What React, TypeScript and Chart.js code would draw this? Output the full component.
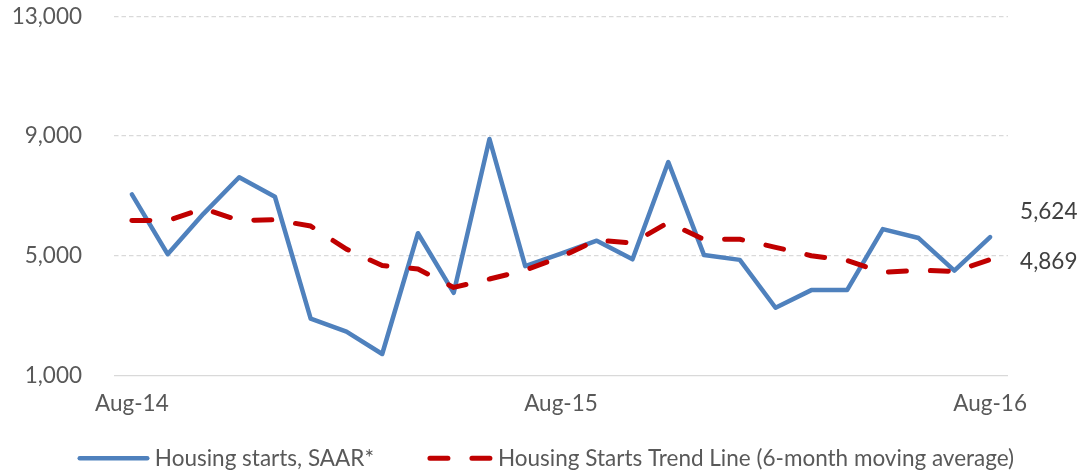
import React, { useEffect, useRef } from "react";
import { Chart, registerables } from "chart.js";

Chart.register(...registerables);

// ---- data ----
const months = [
  "Aug-14", "Sep-14", "Oct-14", "Nov-14", "Dec-14", "Jan-15", "Feb-15", "Mar-15",
  "Apr-15", "May-15", "Jun-15", "Jul-15", "Aug-15", "Sep-15", "Oct-15", "Nov-15",
  "Dec-15", "Jan-16", "Feb-16", "Mar-16", "Apr-16", "May-16", "Jun-16", "Jul-16", "Aug-16",
];
const housingStarts = [
  7050, 5050, 6400, 7620, 6970, 2900, 2460, 1715, 5750, 3760, 8900, 4650, 5070,
  5500, 4880, 8130, 5020, 4860, 3260, 3850, 3850, 5890, 5590, 4500, 5624,
];
const trendLine = [
  6180, 6170, 6580, 6175, 6200, 5990, 5220, 4670, 4555, 3940, 4220, 4520, 4960,
  5525, 5424, 6110, 5540, 5550, 5280, 5000, 4840, 4440, 4520, 4472, 4869,
];
const xTickLabels = ["Aug-14", "Aug-15", "Aug-16"];
const yTickValues = [1000, 5000, 9000, 13000];
const seriesLabels = ["Housing starts, SAAR*", "Housing Starts Trend Line (6-month moving average)"];

const FONT = "Lato, 'Open Sans', sans-serif";
const FONT_SIZE = 22.5;
const TEXT_COLOR = "#595959";

const fmt = (v: number) => v.toLocaleString("en-US");

const endLabelsPlugin = {
  id: "endLabels",
  afterDatasetsDraw(chart: any) {
    const ctx = chart.ctx;
    ctx.save();
    ctx.font = `${FONT_SIZE}px ${FONT}`;
    ctx.fillStyle = "#404040";
    ctx.textAlign = "left";
    ctx.textBaseline = "middle";
    const offsets = [-25, 2];
    chart.data.datasets.forEach((ds: any, i: number) => {
      const meta = chart.getDatasetMeta(i);
      const last = meta.data[meta.data.length - 1];
      const val = ds.data[ds.data.length - 1];
      ctx.fillText(fmt(val), last.x + 30, last.y + offsets[i]);
    });
    ctx.restore();
  },
};

const legendPlugin = {
  id: "customLegend",
  afterDraw(chart: any) {
    const ctx = chart.ctx;
    ctx.save();
    ctx.font = `${FONT_SIZE}px ${FONT}`;
    const lineLen = 67.5;
    const cap = 2.25;
    const textGap = 5.3;
    const itemGap = 46.7;
    const items = chart.data.datasets.map((ds: any) => ({ ds, w: ctx.measureText(ds.label).width }));
    const total =
      items.reduce((s: number, it: any) => s + lineLen + 2 * cap + textGap + it.w, 0) +
      itemGap * (items.length - 1);
    let x = chart.width / 2 + 4.3 - total / 2;
    const y = 458.3;
    items.forEach((it: any) => {
      const ds = it.ds;
      ctx.beginPath();
      ctx.strokeStyle = ds.borderColor;
      ctx.lineWidth = ds.borderWidth;
      ctx.lineCap = "round";
      ctx.setLineDash(ds.borderDash || []);
      ctx.lineDashOffset = ds.borderDash ? -7 : 0;
      ctx.moveTo(x + cap, y);
      ctx.lineTo(x + cap + lineLen, y);
      ctx.stroke();
      ctx.setLineDash([]);
      ctx.fillStyle = TEXT_COLOR;
      ctx.textAlign = "left";
      ctx.textBaseline = "middle";
      ctx.fillText(ds.label, x + lineLen + 2 * cap + textGap, y);
      x += lineLen + 2 * cap + textGap + it.w + itemGap;
    });
    ctx.restore();
  },
};

export default function App() {
  const ref = useRef<HTMLCanvasElement | null>(null);

  useEffect(() => {
    if (!ref.current) return;
    const chart = new Chart(ref.current, {
      type: "line",
      data: {
        labels: months,
        datasets: [
          {
            label: seriesLabels[0],
            data: housingStarts,
            borderColor: "#4f81bd",
            borderWidth: 4.5,
            borderJoinStyle: "round",
            borderCapStyle: "round",
            pointRadius: 0,
            tension: 0,
            order: 1,
          },
          {
            label: seriesLabels[1],
            data: trendLine,
            borderColor: "#c00000",
            borderWidth: 5,
            borderDash: [18, 24],
            borderCapStyle: "round",
            borderJoinStyle: "round",
            pointRadius: 0,
            tension: 0,
            order: 0,
          },
        ],
      },
      options: {
        responsive: false,
        animation: false,
        devicePixelRatio: 1,
        layout: { padding: { top: 16.3, right: 75, bottom: 60, left: 0 } },
        plugins: { legend: { display: false }, tooltip: { enabled: false } },
        scales: {
          x: {
            type: "category",
            offset: true,
            grid: { display: false, drawTicks: false },
            border: { display: false },
            ticks: {
              autoSkip: false,
              maxRotation: 0,
              padding: 15,
              color: TEXT_COLOR,
              font: { family: FONT, size: FONT_SIZE },
              callback: (_v: any, i: number) => (xTickLabels.includes(months[i]) ? months[i] : null),
            },
            afterFit: (s: any) => {
              s.height = 476 - 60 - 375.4;
              s.paddingLeft = 0;
              s.paddingRight = 0;
            },
          },
          y: {
            min: 1000,
            max: 13000,
            afterBuildTicks: (s: any) => {
              s.ticks = yTickValues.map((v) => ({ value: v }));
            },
            grid: { color: "#d9d9d9", lineWidth: 1.3, drawTicks: false },
            border: {
              display: false,
              dash: (c: any) => (c.tick && c.tick.value === 1000 ? [] : [4.5, 3]),
            },
            ticks: {
              padding: 32,
              color: TEXT_COLOR,
              font: { family: FONT, size: FONT_SIZE },
              callback: (v: any) => fmt(Number(v)),
            },
            afterFit: (s: any) => {
              s.width = 114;
              s.paddingTop = 0;
              s.paddingBottom = 0;
            },
          },
        },
      },
      plugins: [endLabelsPlugin, legendPlugin],
    });
    return () => chart.destroy();
  }, []);

  return (
    <div style={{ position: "absolute", left: 0, top: 0, width: 1083, height: 476 }}>
      <canvas ref={ref} width={1083} height={476} style={{ display: "block" }} />
    </div>
  );
}
